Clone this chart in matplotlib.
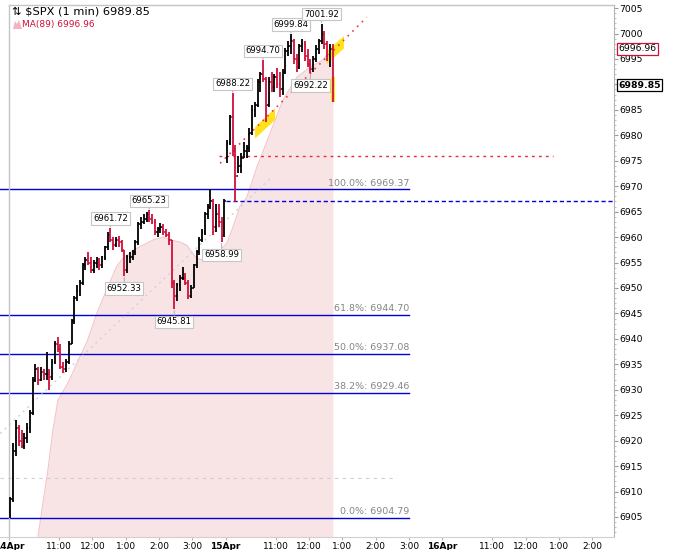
import numpy as np
import matplotlib
matplotlib.use('Agg')
import matplotlib.pyplot as plt
from matplotlib.patches import Polygon, Rectangle
from matplotlib.ticker import MultipleLocator
from matplotlib.transforms import blended_transform_factory

# 5-minute OHLC (open = previous close, except session opens)
day1_high = [6909, 6919.5, 6924, 6923, 6922, 6921.5, 6923.5, 6926, 6932.5, 6935,
             6934.5, 6934.5, 6934, 6937.5, 6934, 6936, 6939.5, 6940.3, 6939, 6935.5,
             6936, 6939.5, 6944, 6948.5, 6950.5, 6951.5, 6955, 6956, 6957, 6956,
             6955.5, 6956, 6955.8, 6956.3, 6958.3, 6961, 6961.72, 6960, 6960, 6960.3,
             6959.5, 6957.5, 6956.5, 6957, 6957.5, 6959.5, 6963, 6964, 6964.5, 6965,
             6965.23, 6964.5, 6963.5, 6962, 6962.7, 6962.5, 6961.5, 6961, 6959.5, 6951.5,
             6951, 6952.5, 6954.2, 6953, 6951.5, 6950.5, 6954.8, 6957.5, 6960, 6961.5,
             6965, 6966.5, 6969.37, 6967.5, 6966.5, 6966.5, 6964, 6967.5]
day1_low = [6904.79, 6908, 6917, 6919, 6918.5, 6918.3, 6919.5, 6921.5, 6925, 6931.5,
            6931, 6931.8, 6932, 6932, 6929.9, 6932, 6935, 6937.5, 6934, 6933.2,
            6933.5, 6935, 6939, 6943, 6947.5, 6948.5, 6950.5, 6953.5, 6954.5, 6953,
            6953, 6954, 6953.5, 6954, 6955.5, 6957.5, 6959, 6957.5, 6958, 6958,
            6957, 6952.33, 6953, 6955, 6955.5, 6956.5, 6958.5, 6961.5, 6962.5, 6963,
            6963, 6962.5, 6960.5, 6960, 6960.8, 6960.5, 6960, 6958.5, 6950, 6945.81,
            6947.5, 6949.5, 6951.5, 6950.5, 6947.8, 6948, 6950, 6954, 6956.5, 6959,
            6960.5, 6963.5, 6965.5, 6960.5, 6961, 6962, 6958.99, 6960]
day1_close = [6908.5, 6918, 6922.5, 6920, 6919, 6920.5, 6922.5, 6925.5, 6932, 6934,
              6932, 6933.5, 6933, 6933, 6932.5, 6935.5, 6939, 6938, 6934.5, 6934,
              6935.5, 6939, 6943.5, 6948, 6949.5, 6951, 6954.5, 6955.5, 6955, 6953.5,
              6955, 6955.5, 6954.5, 6956, 6958, 6960.5, 6959.5, 6958.5, 6959.5, 6959,
              6957.5, 6953.5, 6956, 6956, 6957, 6959, 6962.5, 6963, 6963.5, 6964.5,
              6963.5, 6963, 6961, 6961.5, 6962, 6961, 6960.5, 6959.5, 6951, 6948.5,
              6950.5, 6952, 6952, 6951, 6948.5, 6950, 6954.5, 6957, 6959.5, 6961,
              6964.5, 6966, 6967, 6962, 6964.5, 6963, 6960.5, 6967.05]

day2_high = [6979, 6984, 6988.22, 6978, 6976, 6976.5, 6978.6, 6978, 6981.4, 6986,
             6986.5, 6991, 6992.5, 6994.70, 6991.5, 6991.5, 6992.4, 6992, 6993.2, 6992.5,
             6993, 6997.1, 6998.5, 6999.84, 6999, 6996, 6998, 6999, 6998.5, 6997,
             6995, 6995.5, 6997.7, 6999, 7001.92, 7000.5, 6998.5, 6998, 6998]
day2_low = [6974.5, 6978, 6976, 6966.9, 6972.5, 6972.5, 6975.5, 6975.5, 6976.7, 6980,
            6983.5, 6985.5, 6988.5, 6990.5, 6982.6, 6985.5, 6988.5, 6988.5, 6989.3, 6987.6,
            6988, 6992, 6995.5, 6996, 6994, 6992.4, 6993, 6996.3, 6994.5, 6993.4,
            6992.22, 6992.5, 6994.4, 6996, 6998, 6997, 6994.5, 6993.5, 6986.5]
day2_close = [6978.5, 6983.5, 6977, 6972, 6974, 6975.5, 6977, 6977.5, 6980.5, 6985,
              6986, 6990.5, 6992, 6991, 6986, 6990.5, 6989.5, 6991.5, 6990, 6989,
              6992.5, 6996.5, 6997.5, 6998.5, 6995, 6993.5, 6997.5, 6998, 6995.5, 6994,
              6993, 6995, 6997, 6998.5, 7000, 6998, 6995.5, 6997, 6989.85]
session_open = [6906, 6975.5]

# MA(89) curve (trading minutes since 14Apr 9:30, value)
ma_t = [44, 61, 70, 79, 88, 95, 104, 115, 122, 140, 158, 176, 194, 205, 223, 241, 259,
        277, 293, 308, 320, 329, 338, 349, 362, 380, 392, 403, 416, 428, 446, 470, 493,
        518, 542, 565, 578, 583]
ma_v = [6895, 6907.7, 6914.2, 6922.0, 6927.9, 6929.3, 6930.9, 6933.4, 6935.2, 6939.3,
        6945.0, 6949.7, 6954.3, 6955.8, 6957.4, 6958.4, 6959.4, 6960.0, 6959.4, 6959.0,
        6958.4, 6957.0, 6955.8, 6955.5, 6956.0, 6957.4, 6958.8, 6961.9, 6966.1, 6967.8,
        6973.7, 6980.4, 6986.9, 6991.4, 6993.4, 6994.8, 6996.7, 6996.96]

hi_marks = [6961.72, 6965.23, 6988.22, 6994.70, 6999.84, 7001.92]
lo_marks = [6952.33, 6945.81, 6958.99, 6992.22]

fib_levels = [0.0, 0.382, 0.5, 0.618, 1.0]

x_tick_pos = [0, 90, 150, 210, 270, 330, 390, 480, 540, 600, 660, 720, 780, 870, 930, 990, 1050]
x_tick_lab = ['14Apr', '11:00', '12:00', '1:00', '2:00', '3:00', '15Apr', '11:00', '12:00',
              '1:00', '2:00', '3:00', '16Apr', '11:00', '12:00', '1:00', '2:00']
y_ticks = [6905, 6910, 6915, 6920, 6925, 6930, 6935, 6940, 6945, 6950, 6955, 6960, 6965,
           6970, 6975, 6980, 6985, 6990, 6995, 7000, 7005]
y_hidden = [6990]  # covered by the last-price tag

# drawings (minutes, price)
gray_trend = [(-16, 6921.4), (473, 6971.8)]
red_trend = [(380, 6974.5), (644, 7003.2)]
red_level = (6975.9, 378, 979)
gray_level = (6912.6, -16, 695)
yellow_boxes = [[(443, 6981.6), (443, 6979.4), (479, 6983.0), (479, 6985.3)],
                [(572, 6996.5), (572, 6994.0), (603, 6997.1), (603, 6999.5)]]

# --- assemble bars
highs = np.array(day1_high + day2_high)
lows = np.array(day1_low + day2_low)
closes = np.array(day1_close + day2_close)
t = np.concatenate([np.arange(len(day1_close)) * 5 + 2.5,
                    390 + np.arange(len(day2_close)) * 5 + 2.5])
opens = np.concatenate([[session_open[0]], closes[:-1]])
opens[len(day1_close)] = session_open[1]

RED = '#d0103a'
BLUE = '#0000d8'
colors = np.where(closes < opens, RED, 'black')

XMIN, XMAX = -16.2, 1089
YMIN, YMAX = 6901.07, 7005.6

fig = plt.figure(figsize=(6.77, 5.5), dpi=100)
ax = fig.add_axes([0, 13 / 550, 614 / 677, 532 / 550])
ax.set_xlim(XMIN, XMAX)
ax.set_ylim(YMIN, YMAX)

# MA area
ax.fill_between(ma_t, ma_v, YMIN, color='#f9e4e5', lw=0, zorder=1)
ax.plot(ma_t, ma_v, color='#f1c5ca', lw=0.8, zorder=1)

# fibonacci retracement of day-1 range
d1_hi, d1_lo = max(day1_high), min(day1_low)
for f in fib_levels:
    lvl = d1_lo + f * (d1_hi - d1_lo)
    ax.plot([XMIN, 720], [lvl, lvl], color=BLUE, lw=1.0, zorder=2)
    ax.text(720, lvl + 0.35, f"{f * 100:.1f}%: {lvl:.2f}", ha='right', va='bottom',
            fontsize=6.8, color='#858585', zorder=2)

ax.plot([gray_level[1], gray_level[2]], [gray_level[0]] * 2, color='#cfcfcf', lw=0.8,
        ls=(0, (3, 4)), zorder=2)
ax.plot(*zip(*gray_trend), color='#d2d2d2', lw=1.0, ls=(0, (1.5, 3)), zorder=2)
ax.plot([390.6, XMAX], [day1_close[-1]] * 2, color=BLUE, lw=1.0, ls=(0, (3, 2)), zorder=2)

for pts in yellow_boxes:
    ax.add_patch(Polygon(pts, closed=True, fc='#ffe21a', ec='none', zorder=3))
ax.add_patch(Rectangle((t[-1] - 3.5, lows[-1]), 7, 5, fc='#ffe21a', ec='none', zorder=3))

ax.plot([red_level[1], red_level[2]], [red_level[0]] * 2, color='#e82a3c', lw=1.0,
        ls=(0, (2, 3)), zorder=4)
ax.plot(*zip(*red_trend), color='#ec3a4a', lw=1.2, ls=(0, (1, 3)), zorder=4)

# OHLC bars
ax.vlines(t, lows, highs, colors=colors, lw=1.3, zorder=5)
ax.hlines(opens, t - 2.4, t, colors=colors, lw=1.1, zorder=5)
ax.hlines(closes, t, t + 2.4, colors=colors, lw=1.1, zorder=5)

# swing labels
box = dict(boxstyle='square,pad=0.2', fc='white', ec='#c6c6c6', lw=0.8)
arr = dict(arrowstyle='-', color='#b5b5b5', lw=0.8, shrinkA=0, shrinkB=1)
for v in hi_marks:
    k = int(np.argmin(np.abs(highs - v)))
    ax.annotate(f"{v:.2f}", (t[k], highs[k]), xytext=(0, 7), textcoords='offset points',
                ha='center', va='center', fontsize=6.1, bbox=box, arrowprops=arr, zorder=7)
for v in lo_marks:
    k = int(np.argmin(np.abs(lows - v)))
    ax.annotate(f"{v:.2f}", (t[k], lows[k]), xytext=(0, -9), textcoords='offset points',
                ha='center', va='center', fontsize=6.1, bbox=box, arrowprops=arr, zorder=7)

# axes styling
for s in ['left', 'top']:
    ax.spines[s].set_visible(False)
ax.spines['right'].set_color('#b4b4b4')
ax.spines['bottom'].set_color('#d0d0d0')
ax.axvline(0, color='#c4c4c4', lw=1.0, zorder=2)
ax.plot([0, XMAX], [YMAX, YMAX], color='#c4c4c4', lw=1.0, clip_on=False)

ax.yaxis.tick_right()
ax.set_yticks(y_ticks)
ax.set_yticklabels(['' if v in y_hidden else str(v) for v in y_ticks])
ax.yaxis.set_minor_locator(MultipleLocator(1))
ax.tick_params(axis='y', which='major', length=3, pad=1, labelsize=6.7, color='#9a9a9a')
ax.tick_params(axis='y', which='minor', length=1.5, color='#b4b4b4')
ax.set_xticks(x_tick_pos)
ax.set_xticklabels(x_tick_lab)
ax.tick_params(axis='x', length=2, pad=1.5, labelsize=6.5, color='#b4b4b4')
for lb in ax.get_xticklabels():
    if 'Apr' in lb.get_text():
        lb.set_fontweight('bold')

# last-value tags on the price axis
tr = blended_transform_factory(ax.transAxes, ax.transData)
ax.text(1.007, ma_v[-1], f"{ma_v[-1]:.2f}", transform=tr, ha='left', va='center',
        fontsize=6.7, bbox=dict(boxstyle='square,pad=0.15', fc='white', ec=RED, lw=0.9),
        zorder=8)
ax.text(1.007, closes[-1], f"{closes[-1]:.2f}", transform=tr, ha='left', va='center',
        fontsize=6.7, fontweight='bold',
        bbox=dict(boxstyle='square,pad=0.15', fc='white', ec='black', lw=0.9), zorder=8)

# header
fig.text(12 / 677, 1 - 12 / 550, "\u21c5 \\$SPX (1 min) " + f"{closes[-1]:.2f}",
         fontsize=8.2, va='center', ha='left')
fig.add_artist(Polygon([(13 / 677, 1 - 29 / 550), (15 / 677, 1 - 21 / 550),
                        (17 / 677, 1 - 24 / 550), (19 / 677, 1 - 20 / 550),
                        (22 / 677, 1 - 29 / 550)], closed=True, fc='#f2b4bd', ec='none',
                       transform=fig.transFigure))
fig.text(22 / 677, 1 - 24 / 550, f"MA(89) {ma_v[-1]:.2f}", fontsize=6.5, va='center',
         ha='left', color=RED)

fig.savefig('out.png', dpi=100)
